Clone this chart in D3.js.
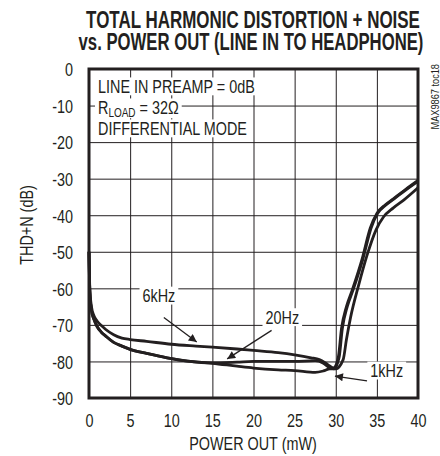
<!DOCTYPE html>
<html>
<head>
<meta charset="utf-8">
<script src="https://cdn.jsdelivr.net/npm/d3@7"></script>
<style>
  body { margin: 0; background: #fff; }
  svg { display: block; }
  text { font-family: "Liberation Sans", Arial, sans-serif; fill: #231f20; }
</style>
</head>
<body>
<div id="chart"></div>
<script>
// データ
const xTicks = [0, 5, 10, 15, 20, 25, 30, 35, 40];
const yTicks = [0, -10, -20, -30, -40, -50, -60, -70, -80, -90];

const p6k = [0, 0.1, 0.3, 0.6, 1, 1.5, 2, 3, 4, 5, 7, 10, 13, 15, 18, 20, 23, 25, 27, 28, 29, 29.7, 30.3, 30.7, 31.3, 32, 33.2, 34.2, 35, 36, 37, 38.4, 40];
const db6k = [-50, -60, -65, -67.5, -69, -70.2, -71.2, -72.7, -73.6, -74, -74.5, -75.3, -75.8, -76.1, -76.6, -77, -77.6, -78.2, -79, -79.5, -80.8, -81.8, -79, -71, -65, -60.5, -52, -43.5, -39.5, -37.2, -35.5, -33.1, -30.5];

const p20 = [0, 0.1, 0.3, 0.6, 1, 1.5, 2, 3, 4, 5, 7, 9.5, 12, 15, 18, 20, 25, 27.5, 28.5, 29.3, 29.8, 30.4, 30.8, 31.4, 32.1, 33.3, 34.3, 35.1, 36.1, 37.1, 38.5, 40];
const db20 = [-50, -61, -66, -68.5, -70.5, -72, -73, -74.8, -75.8, -76.7, -77.8, -79, -79.9, -80.4, -80.2, -80, -80, -79.8, -80.5, -81.8, -82, -79, -71, -65, -60.5, -52, -43.5, -39.5, -37.2, -35.5, -33.1, -30.7];

const p1k = [0, 0.1, 0.3, 0.6, 1, 1.5, 2, 3, 4, 5, 7, 9.5, 12, 15, 18, 20, 23, 25, 27.5, 28.5, 29.3, 30, 30.9, 31.3, 31.8, 32.8, 33.8, 34.9, 35.8, 37, 38.3, 40];
const db1k = [-50, -61, -66, -68.5, -70.5, -72, -73, -74.8, -75.8, -76.7, -77.8, -79, -79.9, -80.5, -81.3, -81.8, -82.3, -82.5, -83, -82.6, -82, -82, -79.5, -74, -68, -59, -51, -44, -40.5, -38, -35.8, -32.5];

const seriesList = [
  { name: "6kHz", p: p6k, db: db6k },
  { name: "20Hz", p: p20, db: db20 },
  { name: "1kHz", p: p1k, db: db1k }
];

// 注記ラベル: テキスト, ラベル位置(mW,dB), 矢印の始点と先端(mW,dB)
const labelNames = ["6kHz", "20Hz", "1kHz"];
const labelPos = [[8.5, -63.8], [23.5, -69.7], [36.2, -84.3]];
const arrowFrom = [[9.1, -68], [22.2, -71.5], [33.8, -85.3]];
const arrowTo = [[13.1, -74.7], [16.8, -79.3], [29.9, -84]];

const infoLines = ["LINE IN PREAMP = 0dB", "R|LOAD| = 32Ω", "DIFFERENTIAL MODE"];

const W = 440, H = 456;
const margin = { top: 69, left: 89 };
const width = 329, height = 329;
const ink = "#231f20";
const squeeze = 0.8;
const fs = 18;

const svg = d3.select("#chart").append("svg")
  .attr("width", W)
  .attr("height", H);

// タイトル（横幅に合わせて縮める）
const titles = ["TOTAL HARMONIC DISTORTION + NOISE", "vs. POWER OUT (LINE IN TO HEADPHONE)"];
const titleX = [253, 251];
const titleLen = [334, 345];
const titleY = [27.5, 49.5];
titles.forEach(function (t, i) {
  const tt = svg.append("text")
    .attr("class", "fixed")
    .attr("text-anchor", "middle")
    .attr("font-size", 23)
    .attr("font-weight", "bold")
    .text(t);
  const k = titleLen[i] / tt.node().getComputedTextLength();
  tt.attr("transform", "translate(" + titleX[i] + "," + titleY[i] + ") scale(" + k + ",1)");
});

const g = svg.append("g")
  .attr("transform", "translate(" + margin.left + "," + margin.top + ")");

const xScale = d3.scaleLinear().domain([0, 40]).range([0, width]);
const yScale = d3.scaleLinear().domain([-90, 0]).range([height, 0]);

// グリッド
g.append("g")
  .attr("transform", "translate(0," + height + ")")
  .call(d3.axisBottom(xScale).tickValues(xTicks).tickSize(-height).tickFormat(""))
  .call(function (s) {
    s.select(".domain").remove();
    s.selectAll("line").attr("stroke", ink).attr("stroke-width", 1);
  });
g.append("g")
  .call(d3.axisLeft(yScale).tickValues(yTicks).tickSize(-width).tickFormat(""))
  .call(function (s) {
    s.select(".domain").remove();
    s.selectAll("line").attr("stroke", ink).attr("stroke-width", 1);
  });

// 目盛りラベル
g.append("g")
  .attr("transform", "translate(0," + height + ")")
  .call(d3.axisBottom(xScale).tickValues(xTicks).tickSize(0).tickPadding(0).tickFormat(function (d) { return String(d); }))
  .call(function (s) {
    s.select(".domain").remove();
    s.selectAll("text")
      .attr("font-size", fs)
      .attr("y", 29)
      .attr("dy", 0);
  });
g.append("g")
  .call(d3.axisLeft(yScale).tickValues(yTicks).tickSize(0).tickPadding(16).tickFormat(function (d) { return String(d); }))
  .call(function (s) {
    s.select(".domain").remove();
    s.selectAll("text")
      .attr("font-size", fs)
      .attr("dy", "0.38em");
  });
svg.selectAll(".tick text").attr("fill", ink);
svg.selectAll("g[font-family]").attr("font-family", null);

// 軸タイトル
svg.append("text")
  .attr("x", 253)
  .attr("y", 450)
  .attr("text-anchor", "middle")
  .attr("font-size", fs)
  .text("POWER OUT (mW)");
svg.append("text")
  .attr("transform", "translate(33,225) rotate(-90)")
  .attr("text-anchor", "middle")
  .attr("font-size", fs)
  .text("THD+N (dB)");

// 右側の小さい注記
svg.append("text")
  .attr("transform", "translate(439,64) rotate(-90)")
  .attr("text-anchor", "end")
  .attr("font-size", 11.5)
  .text("MAX9867 toc18");

// 曲線
const line = d3.line()
  .x(function (d) { return xScale(d[0]); })
  .y(function (d) { return yScale(d[1]); })
  .curve(d3.curveMonotoneX);

seriesList.forEach(function (s) {
  const pts = s.p.map(function (p, i) { return [p, s.db[i]]; });
  g.append("path")
    .datum(pts)
    .attr("fill", "none")
    .attr("stroke", ink)
    .attr("stroke-width", 2.8)
    .attr("stroke-linejoin", "round")
    .attr("d", line);
});

// 条件テキスト（白背景）
const info = g.append("g");
const infoBoxes = [];
infoLines.forEach(function (txt, i) {
  const grp = info.append("g");
  const bg = grp.append("rect").attr("fill", "#fff");
  const t = grp.append("text")
    .attr("x", 9)
    .attr("y", 24 + i * 21)
    .attr("font-size", fs);
  const parts = txt.split("|");
  t.append("tspan").text(parts[0]);
  if (parts.length > 1) {
    t.append("tspan").attr("font-size", 12.5).attr("dy", 3).text(parts[1]);
    t.append("tspan").attr("dy", -3).text(parts[2]);
  }
  infoBoxes.push([bg, t]);
});

// 矢印
svg.append("defs").append("marker")
  .attr("id", "arrow")
  .attr("viewBox", "0 0 10 10")
  .attr("refX", 10)
  .attr("refY", 5)
  .attr("markerWidth", 13)
  .attr("markerHeight", 8)
  .attr("markerUnits", "userSpaceOnUse")
  .attr("orient", "auto")
  .append("path")
  .attr("d", "M0,0L10,5L0,10Z")
  .attr("fill", ink);

const labelBoxes = [];
labelNames.forEach(function (name, i) {
  const grp = g.append("g");
  const bg = grp.append("rect").attr("fill", "#fff");
  const t = grp.append("text")
    .attr("x", xScale(labelPos[i][0]))
    .attr("y", yScale(labelPos[i][1]))
    .attr("text-anchor", "middle")
    .attr("font-size", fs)
    .text(name);
  labelBoxes.push([bg, t]);
  g.append("line")
    .attr("x1", xScale(arrowFrom[i][0]))
    .attr("y1", yScale(arrowFrom[i][1]))
    .attr("x2", xScale(arrowTo[i][0]))
    .attr("y2", yScale(arrowTo[i][1]))
    .attr("stroke", ink)
    .attr("stroke-width", 1.3)
    .attr("marker-end", "url(#arrow)");
});

// 枠
g.append("rect")
  .attr("width", width)
  .attr("height", height)
  .attr("fill", "none")
  .attr("stroke", ink)
  .attr("stroke-width", 3);

// 文字を横に縮める（コンデンス書体の代わり）
svg.selectAll("text:not(.fixed)").each(function () {
  const el = d3.select(this);
  const tr = el.attr("transform");
  if (tr) {
    el.attr("transform", tr + " scale(" + squeeze + ",1)");
  } else {
    const x0 = +el.attr("x") || 0;
    el.attr("transform", "translate(" + x0 + ",0) scale(" + squeeze + ",1) translate(" + (-x0) + ",0)");
  }
});

// 白背景の大きさを合わせる
infoBoxes.concat(labelBoxes).forEach(function (pair) {
  const b = pair[1].node().getBBox();
  const x0 = +pair[1].attr("x");
  const x1 = x0 + (b.x - x0) * squeeze;
  pair[0]
    .attr("x", x1 - 3)
    .attr("y", b.y + 1)
    .attr("width", b.width * squeeze + 6)
    .attr("height", b.height - 2)
});
</script>
</body>
</html>
